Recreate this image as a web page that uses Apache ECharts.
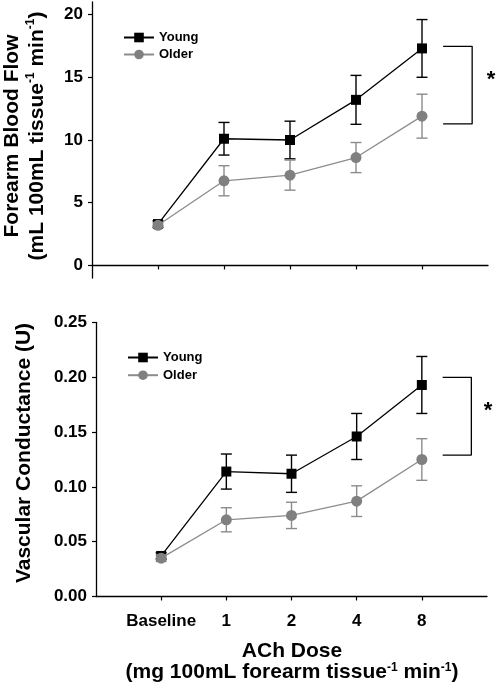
<!DOCTYPE html>
<html>
<head>
<meta charset="utf-8">
<script src="https://cdn.jsdelivr.net/npm/echarts@6/dist/echarts.min.js"></script>
<style>
html,body{margin:0;padding:0;background:#fff;}
#chart{width:497px;height:689px;}
</style>
</head>
<body>
<div id="chart"></div>
<script>
// ---- data ----
const categories = ['Baseline', '1', '2', '4', '8'];
const flowYoung = [3.3, 10.1, 10.0, 13.2, 17.3];
const flowYoungErr = [0.25, 1.3, 1.5, 1.95, 2.3];
const flowOlder = [3.2, 6.75, 7.2, 8.6, 11.9];
const flowOlderErr = [0.2, 1.2, 1.2, 1.2, 1.75];
const condYoung = [0.037, 0.114, 0.112, 0.146, 0.193];
const condYoungErr = [0.003, 0.016, 0.017, 0.021, 0.026];
const condOlder = [0.035, 0.070, 0.074, 0.087, 0.125];
const condOlderErr = [0.003, 0.011, 0.012, 0.014, 0.019];
const flowTicks = [0, 5, 10, 15, 20];
const condTicks = [0, 0.05, 0.10, 0.15, 0.20, 0.25];
const flowBracketY = [17.47, 11.28];
const condBracketY = [0.200, 0.129];
const bracketX = [5.32, 5.76];

// ---- helpers ----
const FONT = 'Liberation Sans, Arial, sans-serif';
const catPos = categories.map((c, i) => i + 1);
const YOUNG = '#000000';
const OLDER_MK = '#808080';
const OLDER_LN = '#8c8c8c';

function pts(vals) { return vals.map((v, i) => [catPos[i], v]); }
function errs(vals, e) { return vals.map((v, i) => [catPos[i], v - e[i], v + e[i]]); }

function errSeries(vals, e, axisIdx, color, z) {
  return {
    type: 'custom', xAxisIndex: axisIdx, yAxisIndex: axisIdx, silent: true, z: z,
    data: errs(vals, e),
    encode: { x: 0, y: [1, 2] },
    renderItem: function (params, api) {
      const x = api.value(0);
      const lo = api.coord([x, api.value(1)]);
      const hi = api.coord([x, api.value(2)]);
      const w = 5.5;
      const st = { stroke: color, lineWidth: 1.4 };
      return {
        type: 'group', children: [
          { type: 'line', shape: { x1: lo[0], y1: lo[1], x2: hi[0], y2: hi[1] }, style: st },
          { type: 'line', shape: { x1: lo[0] - w, y1: lo[1], x2: lo[0] + w, y2: lo[1] }, style: st },
          { type: 'line', shape: { x1: hi[0] - w, y1: hi[1], x2: hi[0] + w, y2: hi[1] }, style: st }
        ]
      };
    }
  };
}

function lineSeries(name, vals, axisIdx, symbol, size, mk, ln, z) {
  return {
    name: name, type: 'line', xAxisIndex: axisIdx, yAxisIndex: axisIdx, z: z,
    data: pts(vals), symbol: symbol, symbolSize: size, showSymbol: true,
    itemStyle: { color: mk, opacity: 1 },
    lineStyle: { color: ln, width: 1.3 },
    animation: false
  };
}

function bracketSeries(by, axisIdx) {
  return {
    type: 'line', xAxisIndex: axisIdx, yAxisIndex: axisIdx, silent: true, symbol: 'none',
    data: [[bracketX[0], by[0]], [bracketX[1], by[0]], [bracketX[1], by[1]], [bracketX[0], by[1]]],
    lineStyle: { color: '#000', width: 1.3 }, clip: false, animation: false
  };
}

const axisLine = { show: true, lineStyle: { color: '#000', width: 1.3 } };
const axisTickStyle = { lineStyle: { color: '#000', width: 1.2 }, length: 4 };
const labelStyle = { color: '#000', fontFamily: FONT, fontWeight: 'bold', fontSize: 17 };

function xAxis(gridIdx, showLabels) {
  return {
    type: 'value', gridIndex: gridIdx, min: 0, max: 6,
    axisLine: axisLine,
    axisTick: Object.assign({ show: true, customValues: catPos }, axisTickStyle),
    axisLabel: Object.assign({
      show: showLabels, customValues: catPos, margin: 16,
      formatter: v => categories[Math.round(v) - 1] || ''
    }, labelStyle),
    splitLine: { show: false }
  };
}

function richStyles(lh) {
  return {
    b: { fontFamily: FONT, fontWeight: 'bold', fontSize: 21, fill: '#000', lineHeight: lh },
    sup: { fontFamily: FONT, fontWeight: 'bold', fontSize: 12, fill: '#000', lineHeight: 11, verticalAlign: 'top' }
  };
}

const chart = echarts.init(document.getElementById('chart'), null, { renderer: 'canvas' });
chart.setOption({
  animation: false,
  backgroundColor: '#ffffff',
  grid: [
    { left: 92, top: 2, width: 396, height: 276 },
    { left: 96, top: 322.5, width: 391, height: 274 }
  ],
  xAxis: [xAxis(0, false), xAxis(1, true)],
  yAxis: [
    {
      type: 'value', gridIndex: 0, min: -1, max: 21,
      axisLine: axisLine,
      axisTick: Object.assign({ show: true, customValues: flowTicks }, axisTickStyle),
      axisLabel: Object.assign({ customValues: flowTicks, margin: 9 }, labelStyle),
      splitLine: { show: false }
    },
    {
      type: 'value', gridIndex: 1, min: 0, max: 0.25,
      axisLine: axisLine,
      axisTick: Object.assign({ show: true, customValues: condTicks }, axisTickStyle),
      axisLabel: Object.assign({ customValues: condTicks, margin: 9, formatter: v => v.toFixed(2) }, labelStyle),
      splitLine: { show: false }
    }
  ],
  legend: [
    {
      data: ['Young', 'Older'], orient: 'vertical', left: 118, top: 26,
      itemWidth: 30, itemHeight: 12, itemGap: 4, selectedMode: false,
      textStyle: { color: '#000', fontFamily: FONT, fontWeight: 'bold', fontSize: 13 }
    },
    {
      data: ['Young', 'Older'], orient: 'vertical', left: 122, top: 346,
      itemWidth: 30, itemHeight: 12, itemGap: 4.7, selectedMode: false,
      textStyle: { color: '#000', fontFamily: FONT, fontWeight: 'bold', fontSize: 13 }
    }
  ],
  series: [
    errSeries(flowYoung, flowYoungErr, 0, YOUNG, 1),
    lineSeries('Young', flowYoung, 0, 'rect', 10, YOUNG, YOUNG, 3),
    errSeries(flowOlder, flowOlderErr, 0, OLDER_LN, 4),
    lineSeries('Older', flowOlder, 0, 'circle', 11, OLDER_MK, OLDER_LN, 5),
    bracketSeries(flowBracketY, 0),
    errSeries(condYoung, condYoungErr, 1, YOUNG, 1),
    lineSeries('Young', condYoung, 1, 'rect', 10, YOUNG, YOUNG, 3),
    errSeries(condOlder, condOlderErr, 1, OLDER_LN, 4),
    lineSeries('Older', condOlder, 1, 'circle', 11, OLDER_MK, OLDER_LN, 5),
    bracketSeries(condBracketY, 1)
  ],
  graphic: [
    {
      type: 'text', x: 25, y: 136, rotation: Math.PI / 2,
      style: {
        text: '{b|Forearm Blood Flow}\n{b|(mL 100mL tissue}{sup|-1}{b| min}{sup|-1}{b|)}',
        rich: richStyles(25), align: 'center', verticalAlign: 'middle'
      }
    },
    {
      type: 'text', x: 24, y: 453, rotation: Math.PI / 2,
      style: {
        text: '{b|Vascular Conductance (U)}',
        rich: richStyles(25), align: 'center', verticalAlign: 'middle'
      }
    },
    {
      type: 'text', x: 292, y: 662,
      style: {
        text: '{b|ACh Dose}\n{b|(mg 100mL forearm tissue}{sup|-1}{b| min}{sup|-1}{b|)}',
        rich: richStyles(21),
        align: 'center', verticalAlign: 'middle'
      }
    },
    {
      type: 'text', x: 491, y: 80,
      style: { text: '{s|*}', rich: { s: { fontFamily: FONT, fontWeight: 'bold', fontSize: 22, fill: '#000' } }, align: 'center', verticalAlign: 'middle' }
    },
    {
      type: 'text', x: 488, y: 411,
      style: { text: '{s|*}', rich: { s: { fontFamily: FONT, fontWeight: 'bold', fontSize: 22, fill: '#000' } }, align: 'center', verticalAlign: 'middle' }
    }
  ]
});
</script>
</body>
</html>
